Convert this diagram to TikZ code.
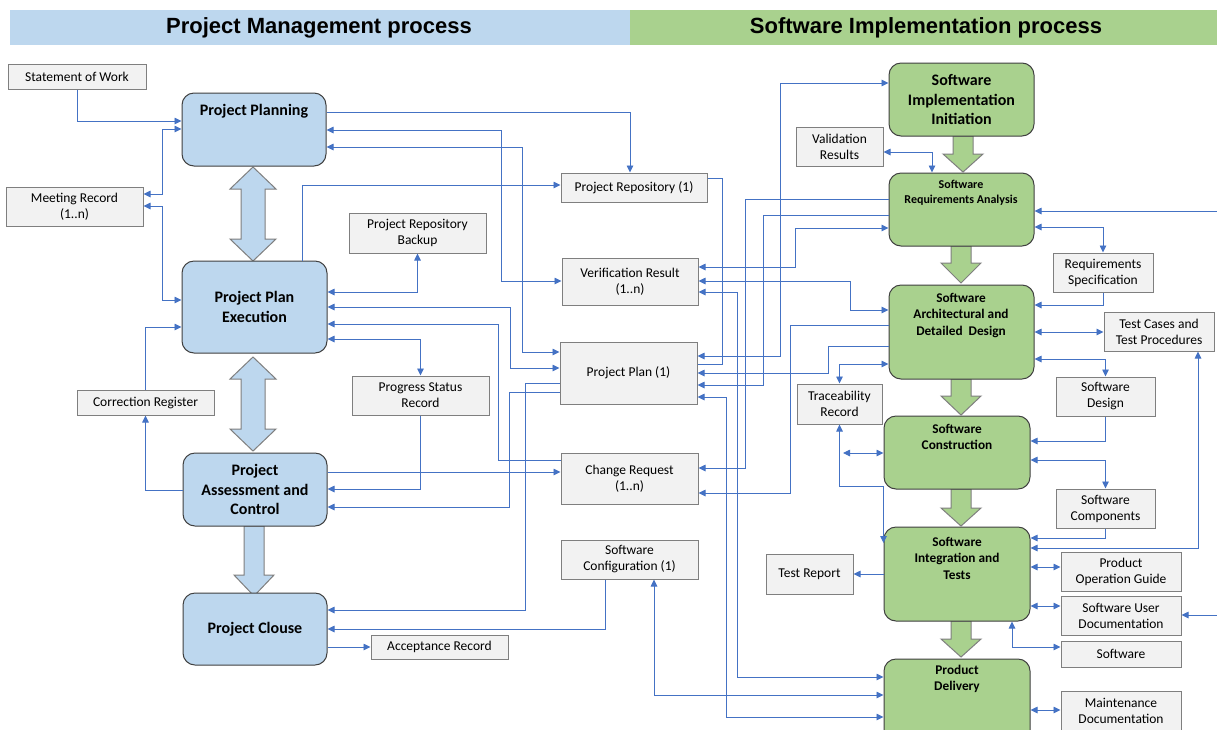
\documentclass[tikz,border=0pt]{standalone}
\usepackage{fontspec}
\setmainfont{Carlito}
\newfontfamily\hdrfont{Liberation Sans}
\usetikzlibrary{arrows.meta}
\definecolor{hblue}{HTML}{BDD7EE}
\definecolor{hgreen}{HTML}{A9D18E}
\definecolor{nblue}{HTML}{BDD7EE}
\definecolor{ngreen}{HTML}{A9D18E}
\definecolor{gfill}{HTML}{F2F2F2}
\definecolor{gdraw}{HTML}{7F7F7F}
\definecolor{ndraw}{HTML}{404040}
\definecolor{lnblue}{HTML}{4472C4}
\newcommand\fatdbl[4]{\draw[#4] (#1,#2) -- ({#1+23},{#2+22}) -- ({#1+12},{#2+22}) -- ({#1+12},{#3-22}) -- ({#1+23},{#3-22}) -- (#1,#3) -- ({#1-23},{#3-22}) -- ({#1-12},{#3-22}) -- ({#1-12},{#2+22}) -- ({#1-23},{#2+22}) -- cycle;}
\newcommand\fatdown[5]{\draw[#5] ({#1-10},#2) -- ({#1+10},#2) -- ({#1+10},#3) -- ({#1+20},#3) -- (#1,#4) -- ({#1-20},#3) -- ({#1-10},#3) -- cycle;}
\newcommand\bx[7]{\pgfmathsetmacro\bxw{#5-#3}\pgfmathsetmacro\bxh{#6-#4}\pgfmathsetmacro\bxcx{(#3+#5)/2}\pgfmathsetmacro\bxcy{(#4+#6)/2}\node[#1, minimum width=\bxw pt, minimum height=\bxh pt] (#2) at (\bxcx,\bxcy) {#7};}
\begin{document}
\begin{tikzpicture}[x=1pt,y=-1pt,
  gbox/.style={draw=gdraw, fill=gfill, line width=1pt, inner sep=0pt, align=center, font=\fontsize{13.5}{16}\selectfont},
  bnode/.style={draw=ndraw, fill=nblue, line width=1pt, rounded corners=12pt, inner sep=0pt, align=center, font=\fontsize{16}{19.5}\selectfont\bfseries},
  gnode/.style={bnode, fill=ngreen},
  ntext/.style={inner sep=0pt, align=center, font=\fontsize{16}{19.5}\selectfont\bfseries},
  stext/.style={inner sep=0pt, align=center, font=\fontsize{13.3}{16.5}\selectfont\bfseries},
  rtext/.style={inner sep=0pt, align=center, font=\fontsize{12}{15}\selectfont\bfseries},
  conn/.style={draw=lnblue, line width=0.9pt, -{Triangle[length=7pt,width=6.5pt]}},
  dconn/.style={draw=lnblue, line width=0.9pt, {Triangle[length=7pt,width=6.5pt]}-{Triangle[length=7pt,width=6.5pt]}},
  pconn/.style={draw=lnblue, line width=0.9pt},
  bigb/.style={draw=gdraw, fill=nblue, line width=1pt},
  bigg/.style={draw=gdraw, fill=ngreen, line width=1pt},
]
\useasboundingbox (0,0) rectangle (1217,729);
\clip (0,0) rectangle (1217,729);
\fill[white] (0,0) rectangle (1217,729);
% headers
\fill[hblue] (10,10) rectangle (630,45);
\fill[hgreen] (630,10) rectangle (1217,45);
\node[font=\hdrfont\fontsize{22}{25}\selectfont\bfseries, inner sep=0pt] (h1) at (319,28) {Project Management process};
\node[font=\hdrfont\fontsize{22}{25}\selectfont\bfseries, inner sep=0pt] (h2) at (926,28) {Software Implementation process};

% big arrows
\fatdbl{253}{167}{261}{bigb}
\fatdbl{253}{357}{451}{bigb}
\fatdown{254}{526}{575}{596}{bigb}
\fatdown{963}{136}{154}{172}{bigg}
\fatdown{961}{246}{263}{283}{bigg}
\fatdown{961}{379}{396}{415}{bigg}
\fatdown{961}{489}{508}{526}{bigg}
\fatdown{961}{621}{639}{657}{bigg}

% main blue nodes
\bx{bnode}{ppl}{182}{93}{326}{166}{}
\node[ntext] (ppl-t) at (254,111) {Project Planning};
\bx{bnode}{ppe}{182}{261}{327}{353}{Project Plan\\Execution}
\bx{bnode}{pac}{183}{453}{327}{526}{Project\\Assessment and\\Control}
\bx{bnode}{pcl}{183}{593}{327}{665}{Project Clouse}

% main green nodes
\bx{gnode}{sii}{889}{63}{1034}{136}{Software\\Implementation\\Initiation}
\bx{gnode}{sra}{889}{173}{1034}{246}{}
\node[rtext] (sra-t) at (961,193) {Software\\Requirements Analysis};
\bx{gnode}{sad}{889}{285}{1034}{379}{}
\node[stext] (sad-t) at (961,315) {Software\\Architectural and\\Detailed\ \ Design};
\bx{gnode}{scon}{884}{416}{1030}{489}{}
\node[stext] (scon-t) at (957,437) {Software\\Construction};
\bx{gnode}{sit}{884}{527}{1030}{621}{}
\node[stext] (sit-t) at (957,558) {Software\\Integration and\\Tests};
\bx{gnode}{pdl}{884}{659}{1030}{745}{}
\node[stext] (pdl-t) at (957,679) {Product\\Delivery};

% gray boxes
\bx{gbox}{sow}{8}{64}{146}{89}{Statement of Work}
\bx{gbox}{mr}{6}{187}{143}{226}{Meeting Record\\(1..n)}
\bx{gbox}{cr}{77}{390}{214}{415}{Correction Register}
\bx{gbox}{bak}{349}{213}{486}{253}{Project Repository\\Backup}
\bx{gbox}{psr}{352}{376}{489}{415}{Progress Status\\Record}
\bx{gbox}{prep}{561}{173}{707}{202}{Project Repository (1)}
\bx{gbox}{vr}{562}{258}{698}{305}{Verification Result\\(1..n)}
\bx{gbox}{pp}{560}{342}{697}{404}{Project Plan (1)}
\bx{gbox}{chg}{561}{453}{698}{504}{Change Request\\(1..n)}
\bx{gbox}{scfg}{561}{540}{698}{579}{Software\\Configuration (1)}
\bx{gbox}{acc}{371}{635}{508}{659}{Acceptance Record}
\bx{gbox}{val}{796}{127}{883}{166}{Validation\\Results}
\bx{gbox}{rs}{1053}{253}{1153}{292}{Requirements\\Specification}
\bx{gbox}{tc}{1104}{312}{1214}{351}{Test Cases and\\Test Procedures}
\bx{gbox}{sd}{1056}{377}{1155}{416}{Software\\Design}
\bx{gbox}{tr}{797}{384}{882}{424}{Traceability\\Record}
\bx{gbox}{scomp}{1056}{489}{1155}{528}{Software\\Components}
\bx{gbox}{trep}{766}{554}{853}{594}{Test Report}
\bx{gbox}{pog}{1061}{552}{1181}{591}{Product\\Operation Guide}
\bx{gbox}{sud}{1061}{596}{1181}{635}{Software User\\Documentation}
\bx{gbox}{sw}{1061}{641}{1181}{667}{Software}
\bx{gbox}{md}{1061}{691}{1181}{731}{Maintenance\\Documentation}

% free ends
\coordinate (ext1) at (1217,211);
\coordinate (ext2) at (1217,615);
\coordinate (tshort) at (843,453);

% left side connectors
\draw[conn] (77,0 |- sow.south) -- (77,121) -- (ppl.west |- 0,121);
\draw[dconn] (mr.east |- 0,194) -- (162,194) -- (162,129) -- (ppl.west |- 0,129);
\draw[dconn] (mr.east |- 0,206) -- (162,206) -- (162,300) -- (ppe.west |- 0,300);
\draw[conn] (pac.west |- 0,490) -| (cr.south);
\draw[conn] (cr.north) |- (ppe.west |- 0,327);
\draw[conn] (ppl.east |- 0,112) -- (630,112) -- (630,0 |- prep.north);
\draw[dconn] (ppl.east |- 0,130) -- (501,130) -- (501,281) -- (vr.west |- 0,281);
\draw[dconn] (ppl.east |- 0,147) -- (522,147) -- (522,352) -- (pp.west |- 0,352);
\draw[conn] (302,0 |- ppe.north) -- (302,185) -- (prep.west |- 0,185);
\draw[dconn] (ppe.east |- 0,292) -| (bak.south);
\draw[dconn] (ppe.east |- 0,307) -- (510,307) -- (510,368) -- (pp.west |- 0,368);
\draw[conn] (chg.west |- 0,460) -- (498,460) -- (498,324) -- (ppe.east |- 0,324);
\draw[dconn] (ppe.east |- 0,339) -| (psr.north);
\draw[conn] (psr.south) |- (pac.east |- 0,489);
\draw[conn] (pac.east |- 0,472) -- (chg.west |- 0,472);
\draw[conn] (pp.west |- 0,392) -- (509,392) -- (509,507) -- (pac.east |- 0,507);
\draw[conn] (pp.west |- 0,383) -- (525,383) -- (525,610) -- (pcl.east |- 0,610);
\draw[conn] (605,0 |- scfg.south) -- (605,629) -- (pcl.east |- 0,629);
\draw[conn] (pcl.east |- 0,647) -- (acc.west |- 0,647);

% middle connectors
\draw[dconn] (654,0 |- scfg.south) -- (654,695) -- (pdl.west |- 0,695);
\draw[dconn] (vr.east |- 0,292) -- (737,292) -- (737,677) -- (pdl.west |- 0,677);
\draw[dconn] (pp.east |- 0,397) -- (726,397) -- (726,717) -- (pdl.west |- 0,717);
\draw[pconn] (prep.east |- 0,178) -- (722,178) -- (722,364) -- (pp.east |- 0,364);
\draw[dconn] (sii.west |- 0,83) -- (780,83) -- (780,356) -- (pp.east |- 0,356);
\draw[conn] (sra.west |- 0,199) -- (745,199) -- (745,468) -- (chg.east |- 0,468);
\draw[conn] (sra.west |- 0,215) -- (763,215) -- (763,385) -- (pp.east |- 0,385);
\draw[dconn] (sra.west |- 0,228) -- (795,228) -- (795,267) -- (vr.east |- 0,267);
\draw[dconn] (vr.east |- 0,281) -- (850,281) -- (850,310) -- (sad.west |- 0,310);
\draw[conn] (sad.west |- 0,325) -- (790,325) -- (790,493) -- (chg.east |- 0,493);
\draw[conn] (sad.west |- 0,346) -- (828,346) -- (828,373) -- (pp.east |- 0,373);
\draw[dconn] (sad.west |- 0,364) -| (tr.north);
\draw[dconn] (tr.south) |- (sit.west |- 0,486) -- (sit.west |- 0,543);
\draw[dconn] (tshort) -- (scon.west |- 0,453);
\draw[conn] (sit.west |- 0,574) -- (trep.east |- 0,574);

% right connectors
\draw[dconn] (val.east |- 0,152) -- (932,152) -- (932,0 |- sra.north);
\draw[conn] (ext1) -- (sra.east |- 0,211);
\draw[dconn] (sra.east |- 0,227) -| (rs.north);
\draw[conn] (rs.south) |- (sad.east |- 0,305);
\draw[dconn] (sad.east |- 0,332) -- (tc.west |- 0,332);
\draw[dconn] (sad.east |- 0,359) -| (sd.north);
\draw[conn] (sd.south) |- (scon.east |- 0,441);
\draw[dconn] (scon.east |- 0,460) -| (scomp.north);
\draw[conn] (scomp.south) |- (sit.east |- 0,538);
\draw[dconn] (sit.east |- 0,548) -- (1198,548) -- (1198,0 |- tc.south);
\draw[dconn] (sit.east |- 0,567) -- (pog.west |- 0,567);
\draw[dconn] (sit.east |- 0,606) -- (sud.west |- 0,606);
\draw[conn] (ext2) -- (sud.east |- 0,615);
\draw[dconn] (1012,0 |- sit.south) -- (1012,647) -- (sw.west |- 0,647);
\draw[dconn] (pdl.east |- 0,710) -- (md.west |- 0,710);
\end{tikzpicture}
\end{document}
